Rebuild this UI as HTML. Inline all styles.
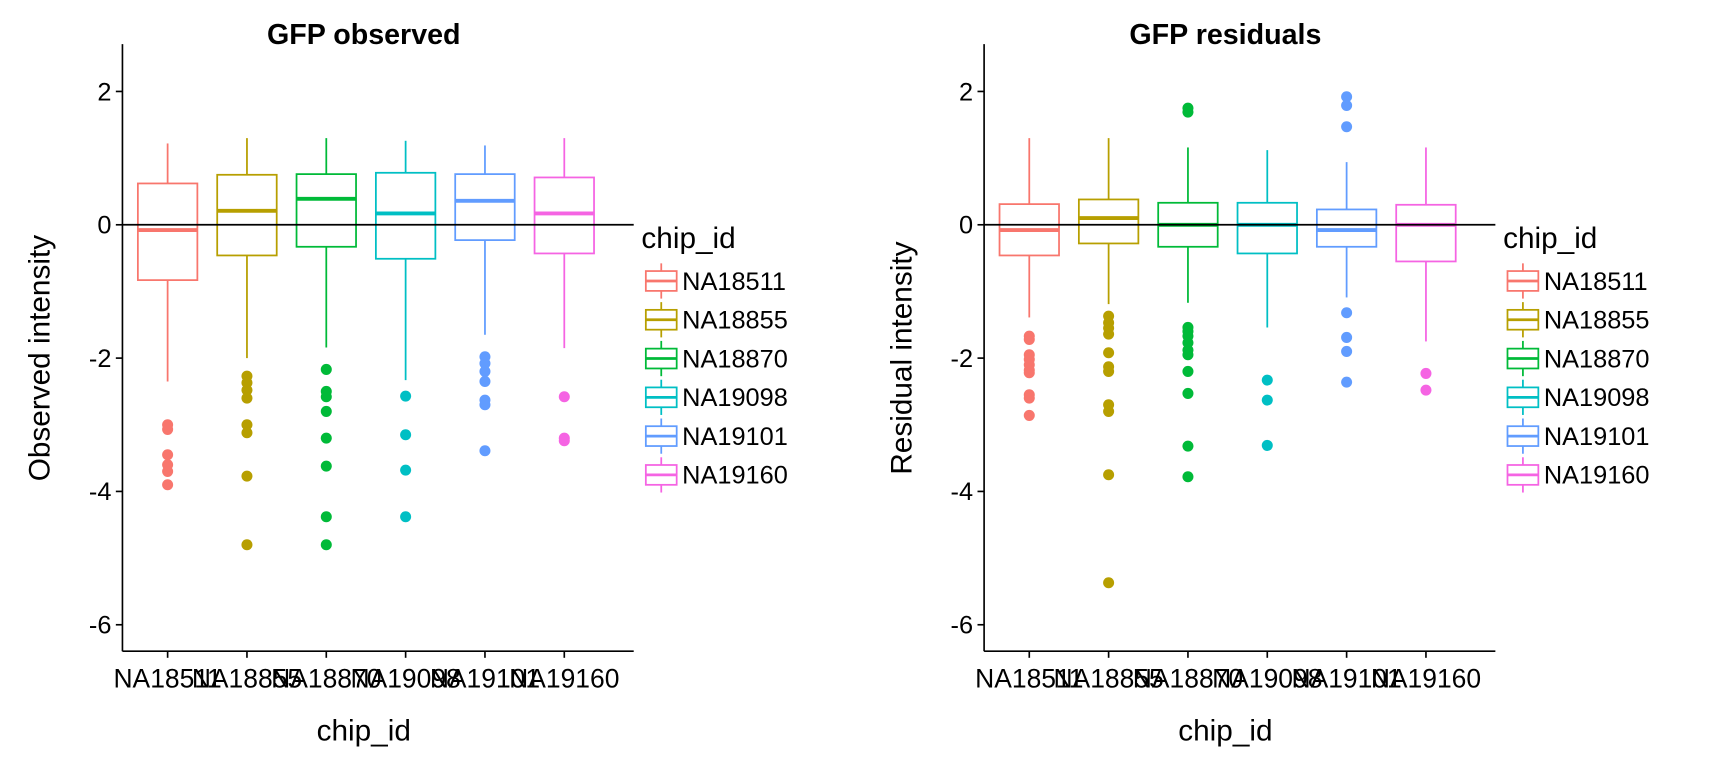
<!DOCTYPE html>
<html><head><meta charset="utf-8"><style>
html,body{margin:0;padding:0;background:#fff;}
svg{display:block;font-family:"Liberation Sans",sans-serif;}
</style></head><body>
<svg id="chart" width="1728" height="768" viewBox="0 0 1568 697" xmlns="http://www.w3.org/2000/svg"></svg>
<script>
const categories = ["NA18511","NA18855","NA18870","NA19098","NA19101","NA19160"];
const colors = ["#F8766D","#B79F00","#00BA38","#00BFC4","#619CFF","#F564E3"];
const yTicks = [2,0,-2,-4,-6];
// [whiskerLow, Q1, median, Q3, whiskerHigh]
const obsStats = [
 [-2.35,-0.83,-0.08,0.62,1.22],
 [-2.0,-0.46,0.21,0.75,1.3],
 [-1.84,-0.33,0.39,0.76,1.3],
 [-2.33,-0.51,0.17,0.78,1.26],
 [-1.65,-0.23,0.36,0.76,1.19],
 [-1.85,-0.43,0.17,0.71,1.3]];
const obsOutliers = [
 [-3.0,-3.07,-3.45,-3.6,-3.7,-3.9],
 [-2.27,-2.37,-2.48,-2.6,-3.0,-3.12,-3.77,-4.8],
 [-2.17,-2.5,-2.58,-2.8,-3.2,-3.62,-4.38,-4.8],
 [-2.57,-3.15,-3.68,-4.38],
 [-1.98,-2.08,-2.2,-2.35,-2.63,-2.7,-3.39],
 [-2.58,-3.2,-3.24]];
const resStats = [
 [-1.39,-0.46,-0.08,0.31,1.3],
 [-1.19,-0.28,0.1,0.38,1.3],
 [-1.17,-0.33,0.0,0.33,1.16],
 [-1.54,-0.43,0.0,0.33,1.12],
 [-1.09,-0.33,-0.08,0.23,0.94],
 [-1.75,-0.55,0.0,0.3,1.16]];
const resOutliers = [
 [-1.67,-1.72,-1.95,-2.02,-2.1,-2.18,-2.22,-2.55,-2.6,-2.86],
 [-1.37,-1.47,-1.55,-1.64,-1.92,-2.13,-2.2,-2.7,-2.8,-3.75,-5.37],
 [1.75,1.69,-1.54,-1.6,-1.67,-1.77,-1.88,-1.95,-2.2,-2.53,-3.32,-3.78],
 [-2.33,-2.63,-3.31],
 [1.92,1.79,1.47,-1.32,-1.69,-1.9,-2.36],
 [-2.23,-2.48]];

const svg = document.getElementById('chart');
const NS = "http://www.w3.org/2000/svg";
function el(tag, attrs, parent, text){
  const e=document.createElementNS(NS,tag);
  for(const k in attrs) e.setAttribute(k,attrs[k]);
  if(text!==undefined) e.textContent=text;
  (parent||svg).appendChild(e); return e;
}
const y = v => 204 - v*60.5;

function panel(x0, title, ytitle, stats, outliers, key){
  const g = el('g',{});
  
  
  const xs = i => x0 + 41 + i*72;
  const t = el('text',{x:x0+219,y:40,'text-anchor':'middle','font-size':26,'font-weight':'bold'},g,title);
  
  
  const ya = el('line',{x1:x0,x2:x0,y1:40,y2:591,stroke:'#000','stroke-width':1.5},g);
  
  
  yTicks.forEach(v=>{
    el('line',{x1:x0-6,x2:x0,y1:y(v),y2:y(v),stroke:'#000','stroke-width':1.5},g);
    const tl = el('text',{x:x0-10,y:y(v)+8,'text-anchor':'end','font-size':23,fill:'#000'},g,String(v));
    
    
  });
  const yt = el('text',{transform:`translate(${x0-66},325) rotate(-90)`,'text-anchor':'middle','font-size':27},g,ytitle);
  
  
  const xa = el('line',{x1:x0,x2:x0+464,y1:591,y2:591,stroke:'#000','stroke-width':1.5},g);
  
  
  categories.forEach((c,i)=>{
    el('line',{x1:xs(i),x2:xs(i),y1:591,y2:597,stroke:'#000','stroke-width':1.5},g);
    const xl = el('text',{x:xs(i),y:624,'text-anchor':'middle','font-size':24},g,c);
    
    
  });
  const xt = el('text',{x:x0+219,y:672,'text-anchor':'middle','font-size':27},g,'chip_id');
  
  
  stats.forEach((s,i)=>{
    const col=colors[i], cx=xs(i), w=27;
    const bg = el('g',{stroke:col,fill:'none','stroke-width':1.6},g);
    
    
    el('line',{x1:cx,x2:cx,y1:y(s[4]),y2:y(s[3])},bg);
    el('line',{x1:cx,x2:cx,y1:y(s[1]),y2:y(s[0])},bg);
    el('rect',{x:cx-w,y:y(s[3]),width:2*w,height:y(s[1])-y(s[3]),fill:'#fff'},bg);
    el('line',{x1:cx-w,x2:cx+w,y1:y(s[2]),y2:y(s[2]),'stroke-width':3.5},bg);
    outliers[i].forEach(v=>{
      const p=el('circle',{cx:cx,cy:y(v),r:5,fill:col,stroke:'none'},bg);
      
      
    });
  });
  const z = el('line',{x1:x0,x2:x0+464,y1:y(0),y2:y(0),stroke:'#000','stroke-width':1.6},g);
  
  
  const lg = el('g',{},g);
  
  
  const lx = x0+471;
  el('text',{x:lx,y:225,'font-size':27},lg,'chip_id');
  categories.forEach((c,i)=>{
    const cy=255+i*35.2;
    const e=el('g',{},lg);
    
    
    el('line',{x1:lx+18,x2:lx+18,y1:cy-16,y2:cy+16,stroke:colors[i],'stroke-width':1.6},e);
    el('rect',{x:lx+4,y:cy-9,width:28,height:18,fill:'#fff',stroke:colors[i],'stroke-width':1.6},e);
    el('line',{x1:lx+4,x2:lx+32,y1:cy,y2:cy,stroke:colors[i],'stroke-width':2.5},e);
    el('text',{x:lx+37,y:cy+8,'font-size':23},e,c);
  });
}
panel(111,'GFP observed','Observed intensity',obsStats,obsOutliers,'observed');
panel(893,'GFP residuals','Residual intensity',resStats,resOutliers,'residuals');
</script>
</body></html>
